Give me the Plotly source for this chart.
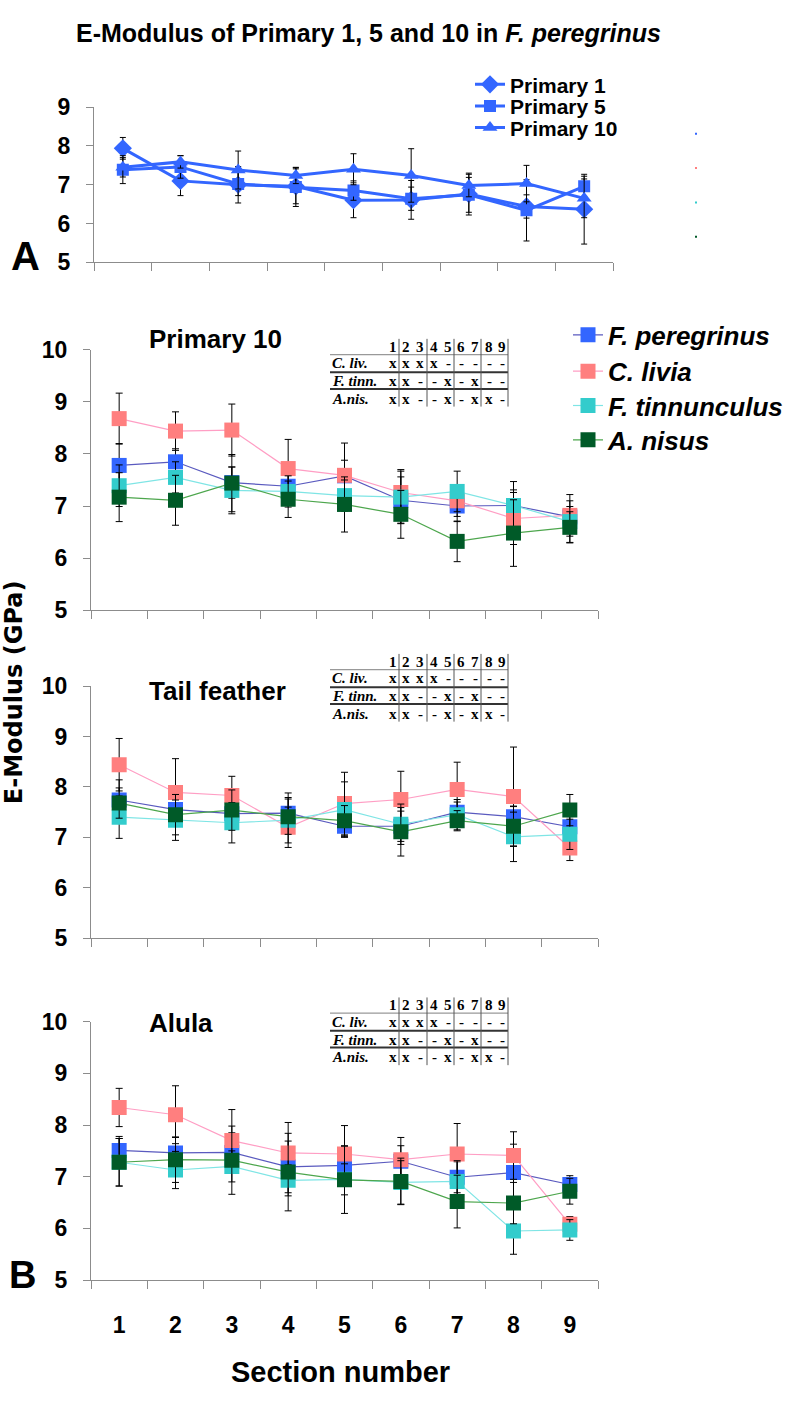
import plotly.graph_objects as go

W, H = 795, 1405

# ---------------- data ----------------
sections = [1, 2, 3, 4, 5, 6, 7, 8, 9]
section_labels = ["1", "2", "3", "4", "5", "6", "7", "8", "9"]
boundaries = [0.5, 1.5, 2.5, 3.5, 4.5, 5.5, 6.5, 7.5, 8.5, 9.5]

# Panel A (F. peregrinus, primaries)
a_names = ["Primary 1", "Primary 5", "Primary 10"]
a_primary1 = [7.94, 7.10, 7.00, 6.96, 6.60, 6.61, 6.76, 6.44, 6.37]
a_primary1_err = [0.28, 0.38, 0.47, 0.45, 0.45, 0.50, 0.54, 0.30, 0.90]
a_primary5 = [7.39, 7.46, 7.02, 6.94, 6.85, 6.64, 6.74, 6.34, 6.96]
a_primary5_err = [0.36, 0.29, 0.30, 0.50, 0.25, 0.30, 0.45, 0.79, 0.26]
a_primary10 = [7.45, 7.59, 7.38, 7.24, 7.40, 7.24, 6.98, 7.03, 6.65]
a_primary10_err = [0.25, 0.16, 0.49, 0.21, 0.40, 0.69, 0.29, 0.47, 0.50]

# Panel B species
species = ["F. peregrinus", "C. livia", "F. tinnunculus", "A. nisus"]
panels = ["Primary 10", "Tail feather", "Alula"]

# Primary 10
p10_fp = [7.78, 7.85, 7.45, 7.38, 7.58, 7.11, 7.00, 7.01, 6.79]
p10_fp_err = [0.42, 0.25, 0.30, 0.30, 0.30, 0.45, 0.30, 0.30, 0.20]
p10_cl = [8.68, 8.44, 8.46, 7.72, 7.59, 7.26, 7.10, 6.76, 6.82]
p10_cl_err = [0.49, 0.37, 0.50, 0.56, 0.62, 0.44, 0.30, 0.50, 0.40]
p10_ft = [7.39, 7.55, 7.30, 7.28, 7.20, 7.17, 7.28, 7.01, 6.70]
p10_ft_err = [0.40, 0.30, 0.45, 0.30, 0.30, 0.50, 0.39, 0.46, 0.40]
p10_an = [7.17, 7.11, 7.44, 7.13, 7.03, 6.84, 6.32, 6.48, 6.59]
p10_an_err = [0.47, 0.48, 0.55, 0.35, 0.53, 0.46, 0.39, 0.64, 0.30]

# Tail feather
tail_fp = [7.74, 7.55, 7.47, 7.48, 7.22, 7.22, 7.50, 7.41, 7.21]
tail_fp_err = [0.40, 0.30, 0.30, 0.40, 0.20, 0.30, 0.20, 0.20, 0.20]
tail_cl = [8.44, 7.89, 7.83, 7.20, 7.67, 7.75, 7.95, 7.81, 6.79]
tail_cl_err = [0.52, 0.67, 0.38, 0.40, 0.62, 0.56, 0.54, 0.98, 0.25]
tail_ft = [7.40, 7.34, 7.29, 7.34, 7.55, 7.26, 7.45, 7.01, 7.06]
tail_ft_err = [0.42, 0.40, 0.40, 0.45, 0.55, 0.40, 0.30, 0.49, 0.30]
tail_an = [7.68, 7.45, 7.54, 7.41, 7.33, 7.11, 7.33, 7.22, 7.54]
tail_an_err = [0.30, 0.40, 0.40, 0.35, 0.30, 0.48, 0.20, 0.40, 0.31]

# Alula
alula_fp = [7.51, 7.46, 7.47, 7.19, 7.22, 7.30, 6.99, 7.08, 6.85]
alula_fp_err = [0.27, 0.30, 0.38, 0.50, 0.38, 0.30, 0.30, 0.55, 0.17]
alula_cl = [8.34, 8.20, 7.70, 7.46, 7.44, 7.33, 7.44, 7.41, 6.08]
alula_cl_err = [0.37, 0.56, 0.60, 0.59, 0.55, 0.43, 0.59, 0.46, 0.15]
alula_ft = [7.28, 7.13, 7.20, 6.93, 6.95, 6.89, 6.91, 5.95, 5.97]
alula_ft_err = [0.46, 0.36, 0.30, 0.30, 0.30, 0.42, 0.40, 0.45, 0.20]
alula_an = [7.28, 7.33, 7.32, 7.09, 6.94, 6.91, 6.52, 6.49, 6.72]
alula_an_err = [0.46, 0.44, 0.66, 0.75, 0.65, 0.45, 0.51, 0.40, 0.25]

# significance table
table_cols = ["1", "2", "3", "4", "5", "6", "7", "8", "9"]
table_rows = ["C. liv.", "F. tinn.", "A.nis."]
table_cliv = ["x", "x", "x", "x", "-", "-", "-", "-", "-"]
table_ftinn = ["x", "x", "-", "-", "x", "-", "x", "-", "-"]
table_anis = ["x", "x", "-", "-", "x", "-", "x", "x", "-"]

# ---------------- style ----------------
A_BLUE = "#3366FF"
marker_colors = ["#3366FF", "#FF7F7F", "#33CCCC", "#005A28"]
line_colors = ["#5A5ABF", "#FF9EC4", "#7FE5E5", "#4DA64D"]
SANS = "Liberation Sans, Arial, sans-serif"
SERIF = "Liberation Serif, Times New Roman, serif"
AXC = "#8C8C8C"


def fx(px):
    return px / W


def fy(py):
    return 1 - py / H


fig = go.Figure()

# ---------- Panel A ----------
a_series = [(a_primary1, a_primary1_err, "diamond", 14),
            (a_primary5, a_primary5_err, "square", 12),
            (a_primary10, a_primary10_err, "triangle-up", 13)]
for i, (vals, err, sym, sz) in enumerate(a_series):
    fig.add_trace(go.Scatter(
        x=sections, y=vals, name=a_names[i], mode="lines+markers",
        line=dict(color=A_BLUE, width=3),
        marker=dict(symbol=sym, size=sz, color=A_BLUE),
        error_y=dict(type="data", array=err, color="black", thickness=1, width=3),
        xaxis="x", yaxis="y", legend=["legend", "legend2", "legend3"][i],
        showlegend=True,
    ))

# ---------- Panel B ----------
b_data = [
    [(p10_fp, p10_fp_err), (p10_cl, p10_cl_err), (p10_ft, p10_ft_err), (p10_an, p10_an_err)],
    [(tail_fp, tail_fp_err), (tail_cl, tail_cl_err), (tail_ft, tail_ft_err), (tail_an, tail_an_err)],
    [(alula_fp, alula_fp_err), (alula_cl, alula_cl_err), (alula_ft, alula_ft_err), (alula_an, alula_an_err)],
]
b_axes = [("x2", "y2"), ("x3", "y3"), ("x4", "y4")]
b_legends = ["legend4", "legend5", "legend6", "legend7"]
for p, series in enumerate(b_data):
    xa, ya = b_axes[p]
    for s, (vals, err) in enumerate(series):
        fig.add_trace(go.Scatter(
            x=sections, y=vals, name="<i>" + species[s] + "</i>", mode="lines+markers",
            line=dict(color=line_colors[s], width=1.2),
            marker=dict(symbol="square", size=15, color=marker_colors[s]),
            error_y=dict(type="data", array=err, color="black", thickness=1, width=3.5),
            xaxis=xa, yaxis=ya, legend=b_legends[s], showlegend=(p == 0),
        ))

# ---------- axes ----------
def xaxis(dom, labels=False):
    return dict(domain=[fx(dom[0]), fx(dom[1])], range=[0.5, 9.5],
                tickmode="array", tickvals=sections, ticktext=section_labels,
                ticks="", showticklabels=labels,
                tickfont=dict(family=SANS, size=23, color="black", weight="bold"),
                ticklabelstandoff=24,
                minor=dict(tickvals=boundaries, ticks="outside", ticklen=8,
                           tickcolor=AXC, tickwidth=1),
                showline=True, linecolor=AXC, linewidth=1.3,
                showgrid=False, zeroline=False, fixedrange=True)


def yaxis(dom, rng, anchor):
    return dict(domain=[fy(dom[1]), fy(dom[0])], range=rng, anchor=anchor,
                tickmode="array", tickvals=list(range(rng[0], rng[1] + 1)),
                ticks="outside", ticklen=7, tickcolor=AXC, tickwidth=1,
                tickfont=dict(family=SANS, size=23, color="black", weight="bold"),
                ticklabelstandoff=11,
                showline=True, linecolor=AXC, linewidth=1.3,
                showgrid=False, zeroline=False, fixedrange=True)


BX = (91, 598)
fig.update_layout(
    xaxis=dict(xaxis((94, 613)), anchor="y"),
    yaxis=yaxis((96, 254), [5, 9], "x"),
    xaxis2=dict(xaxis(BX), anchor="y2"),
    yaxis2=yaxis((343.3, 608.3), [5, 10], "x2"),
    xaxis3=dict(xaxis(BX), anchor="y3"),
    yaxis3=yaxis((685.7, 942.7), [5, 10], "x3"),
    xaxis4=dict(xaxis(BX, labels=True), anchor="y4"),
    yaxis4=yaxis((1027.7, 1291), [5, 10], "x4"),
)

# ---------- legends ----------
legA_font = dict(family=SANS, size=21, color="black", weight="bold")
for i, (name, cy) in enumerate(zip(["legend", "legend2", "legend3"], [73, 95, 117])):
    fig.update_layout({name: dict(x=fx(470), y=fy(cy), xanchor="left", yanchor="middle",
                                  font=legA_font, bgcolor="rgba(0,0,0,0)",
                                  borderwidth=0, itemwidth=30)})
legB_font = dict(family=SANS, size=26, color="black", weight="bold")
for name, cy in zip(b_legends, [328, 365, 400, 435]):
    fig.update_layout({name: dict(x=fx(568), y=fy(cy), xanchor="left", yanchor="middle",
                                  font=legB_font, bgcolor="rgba(0,0,0,0)",
                                  borderwidth=0, itemwidth=30)})

# ---------- annotations ----------
ann = []
ann.append(dict(text="E-Modulus of Primary 1, 5 and 10 in <i>F. peregrinus</i>",
                x=fx(74), y=fy(20), xanchor="left", yanchor="middle",
                font=dict(family=SANS, size=25, color="black", weight="bold")))
ann.append(dict(text="A", x=fx(25), y=fy(248), xanchor="center", yanchor="middle",
                font=dict(family=SANS, size=40, color="black", weight="bold")))
ann.append(dict(text="B", x=fx(22), y=fy(1286), xanchor="center", yanchor="middle",
                font=dict(family=SANS, size=38, color="black", weight="bold")))
ann.append(dict(text="E-Modulus (GPa)", x=fx(14), y=fy(692), textangle=-90,
                xanchor="center", yanchor="middle",
                font=dict(family="DejaVu Sans, sans-serif", size=24, color="black", weight="bold")))
ann.append(dict(text="Section number", x=fx(340), y=fy(1385), xanchor="center", yanchor="middle",
                font=dict(family=SANS, size=29, color="black", weight="bold")))
for title, cy in zip(panels, [332, 691, 1029]):
    ann.append(dict(text=title, x=fx(147), y=fy(cy), xanchor="left", yanchor="middle",
                    font=dict(family=SANS, size=26, color="black", weight="bold")))

shapes = []
col_x = [393, 406, 420, 434, 448, 461, 475, 489, 502]
vline_x = [399, 427, 454, 481, 508]
table_marks = [table_cliv, table_ftinn, table_anis]
for base in [340, 661, 1011]:
    for c, cx in zip(table_cols, col_x):
        ann.append(dict(text=c, x=fx(cx), y=fy(base), xanchor="center", yanchor="middle",
                        font=dict(family=SERIF, size=15, color="black", weight="bold")))
    for r, (rname, marks) in enumerate(zip(table_rows, table_marks)):
        ry = base + [17, 35, 53][r]
        ann.append(dict(text="<i>" + rname + "</i>", x=fx(330), y=fy(ry), xanchor="left",
                        yanchor="middle",
                        font=dict(family=SERIF, size=15, color="black", weight="bold")))
        for m, cx in zip(marks, col_x):
            ann.append(dict(text=m, x=fx(cx), y=fy(ry), xanchor="center", yanchor="middle",
                            font=dict(family=SERIF, size=15, color="black", weight="bold")))
    # horizontal rules
    shapes.append(dict(type="line", xref="paper", yref="paper", x0=fx(330), x1=fx(508),
                       y0=fy(base + 8), y1=fy(base + 8), line=dict(color="#999999", width=1.2)))
    for off in (26, 43):
        shapes.append(dict(type="line", xref="paper", yref="paper", x0=fx(330), x1=fx(508),
                           y0=fy(base + off), y1=fy(base + off), line=dict(color="#333333", width=2)))
    for vx in vline_x:
        shapes.append(dict(type="line", xref="paper", yref="paper", x0=fx(vx), x1=fx(vx),
                           y0=fy(base - 8), y1=fy(base + 61), line=dict(color="#555555", width=1)))

# tiny stray legend dots in panel A
for cy, col in zip([123, 158, 193, 228], marker_colors):
    shapes.append(dict(type="rect", xref="paper", yref="paper", x0=fx(695), x1=fx(697),
                       y0=fy(cy + 1), y1=fy(cy - 1), line=dict(width=0), fillcolor=col))

for a in ann:
    a.setdefault("xref", "paper")
    a.setdefault("yref", "paper")
    a.setdefault("showarrow", False)

fig.update_layout(
    width=W, height=H, margin=dict(l=0, r=0, t=0, b=0),
    paper_bgcolor="white", plot_bgcolor="white",
    annotations=ann, shapes=shapes,
)

fig.write_html("out.html")
